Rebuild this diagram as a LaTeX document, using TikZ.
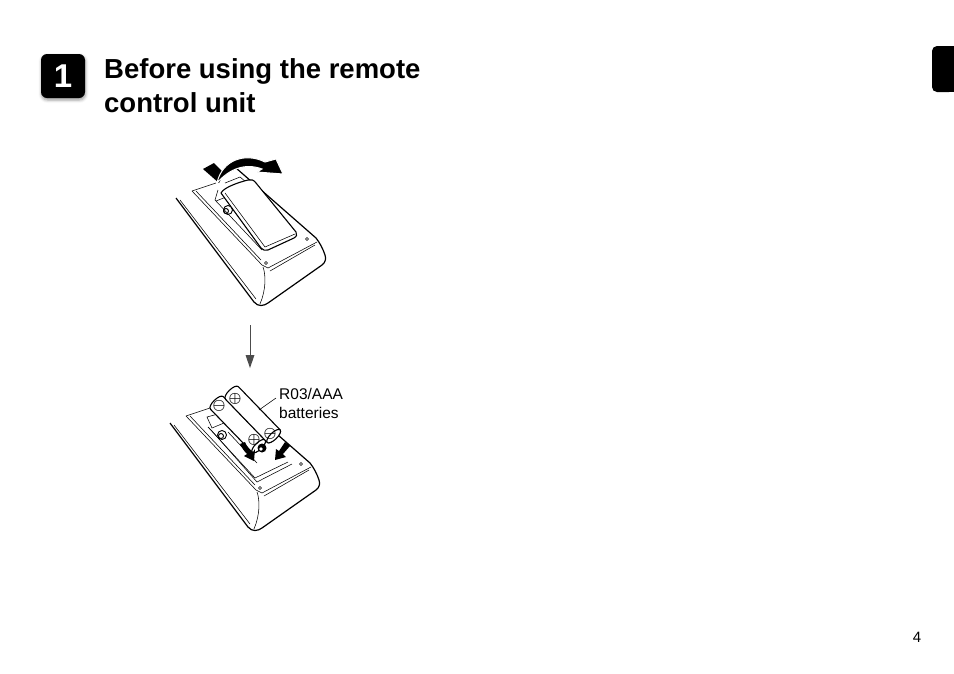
\documentclass[tikz,border=0pt]{standalone}
\usepackage{fontspec}
\setmainfont{Liberation Sans}
\usetikzlibrary{shadows.blur}
\definecolor{inkgrey}{gray}{0.3}
\tikzset{
  thinline/.style={draw=black, line width=0.55pt},
  thickline/.style={draw=black, line width=1.2pt, line join=round},
  coverface/.style={draw=black, line width=1.1pt, fill=white, line join=round},
  signmark/.style={inner sep=0pt, font=\boldmath\fontsize{14}{14}\selectfont},
  heading/.style={font=\bfseries\fontsize{27.5}{34}\selectfont, anchor=north west, align=left, inner sep=0pt},
  caption/.style={font=\fontsize{15.5}{19.5}\selectfont, anchor=north west, align=left, inner sep=0pt},
  remotebody/.pic={
    % body outline
    \draw[thickline] (176,198) -- (254,302) .. controls (258,307) and (264,306) .. (268,303)
      -- (322,265) .. controls (326,262) and (326,258) .. (325,255)
      .. controls (323,249) and (320,243) .. (316,238) -- (236,168);
    \draw[thinline] (180,200) -- (256,299);
    % front face of the body
    \draw[thinline] (263,267) .. controls (266,275) and (266,290) .. (260,304);
    % panel
    \draw[thinline] (192,191) -- (216,183);
    \draw[thinline] (192,191) -- (262,265) -- (268,268) -- (317,242);
    \draw[thinline] (196,191) -- (261,260);
    \draw[thinline] (270,271) -- (315,245);
    \draw[thinline] (266,263) circle (1.6);
    \draw[thinline] (307,239) circle (1.6);
  },
  aaacell/.pic={
    % cell along the x axis
    \draw[coverface] (0,-9) .. controls (-5,-9) and (-5,9) .. (0,9) -- (60,9)
      .. controls (64,9) and (64,-9) .. (60,-9) -- cycle;
    \draw[coverface] (60,0) ellipse (3.5 and 9);
  }
}

\begin{document}
\begin{tikzpicture}[x=1pt,y=-1pt]
  \useasboundingbox (0,0) rectangle (954,673);

  % Number badge and heading
  \node[fill=black, rounded corners=6pt, minimum size=44pt, inner sep=0pt, text=white,
    font=\bfseries\fontsize{33}{33}\selectfont,
    blur shadow={shadow xshift=0.5pt, shadow yshift=-2pt, shadow blur radius=3pt, shadow opacity=40}] (badge) at (63,76) {1};
  \node[heading] (title) at (104,58) {Before using the remote\\control unit};

  % Side tab and page number
  \fill[black, rounded corners=5pt] (954,46) -- (932,46) -- (932,92) -- (954,92) -- cycle;
  \fill[black] (945,46) rectangle (954,92);
  \node[font=\fontsize{15}{15}\selectfont, inner sep=0pt] (pagenum) at (917,637) {4};

  % First remote with its cover
  \pic (upper) at (0,0) {remotebody};
  \draw[thinline] (215,200) -- (262,250);
  \draw[thinline] (218,190) -- (215,200);
  \draw[thinline] (225,183) -- (240,177) -- (246,182);
  \draw[thinline] (216,201) -- (226,197);
  \draw[line width=0.9pt] (226,211) circle (2.5);
  \draw[line width=0.9pt] (228,210) circle (4.5);
  \draw[coverface] (221,193) .. controls (224,187) and (240,182) .. (248,180)
    .. controls (251,179) and (254,180) .. (256,183) -- (296,232)
    .. controls (297,235) and (297,236) .. (294,238) -- (268,250)
    .. controls (265,251) and (263,250) .. (261,248) -- cycle;
  \draw[thinline] (225,193) -- (265,247) -- (295,234);
  \fill[black] (203,169) -- (214,163) -- (224,173) -- (219,183) -- cycle;
  \draw[draw=white, line width=1pt, fill=black] (217,183) .. controls (222,160) and (245,152) .. (265,162) -- (276,159) -- (283,174)
    -- (257,172) -- (262,169) .. controls (246,163) and (230,168) .. (217,183) -- cycle;

  % Arrow from the first step to the second
  \coordinate (stepfrom) at (250,325);
  \coordinate (stepto) at (250,368);
  \draw[draw=inkgrey, line width=0.9pt] (stepfrom) -- (250,356);
  \fill[inkgrey] (245.5,355) -- (254.5,355) -- (stepto) -- cycle;

  % Second remote with the batteries
  \pic (lower) at (-6,225) {remotebody};
  \draw[thinline] (207,417) -- (218,414) -- (224,423) -- (212,428) -- cycle;
  \draw[thinline] (208,427) -- (255,478) -- (288,462);
  \draw[thinline] (208,427) -- (212,431) -- (257,482) -- (292,464);
  \draw[thinline] (228,432) -- (257,463);
  \draw[line width=0.9pt] (221,436) circle (2.5);
  \draw[line width=0.9pt] (222,435) circle (4.5);
  \pic (cella) at (217,403) [rotate=-46] {aaacell};
  \pic (cellb) at (232,393) [rotate=-46] {aaacell};
  \fill[black] (262,448) circle (4.5);
  \fill[white] (261,449) circle (1.8);
  \node[signmark] (signa) at (219,406) {$\ominus$};
  \node[signmark] (signb) at (235,399) {$\oplus$};
  \node[signmark] (signc) at (254,440) {$\oplus$};
  \node[signmark] (signd) at (270,434) {$\ominus$};
  \fill[black] (240,444) -- (245,442) .. controls (247,447) and (250,450) .. (253,452) -- (255,449) -- (254,461) -- (244,456) -- (247,454) .. controls (244,451) and (242,448) .. (240,444) -- cycle;
  \fill[black] (285,442) -- (290,446) -- (283,454) -- (286,457) -- (275,460) -- (276,449) -- (279,451) -- cycle;

  % Battery label
  \node[caption] (celltext) at (279,388) {R03/AAA\\batteries};
  \coordinate (cellside) at (259,410);
  \draw[thinline] (276,398) -- (cellside);
\end{tikzpicture}
\end{document}
